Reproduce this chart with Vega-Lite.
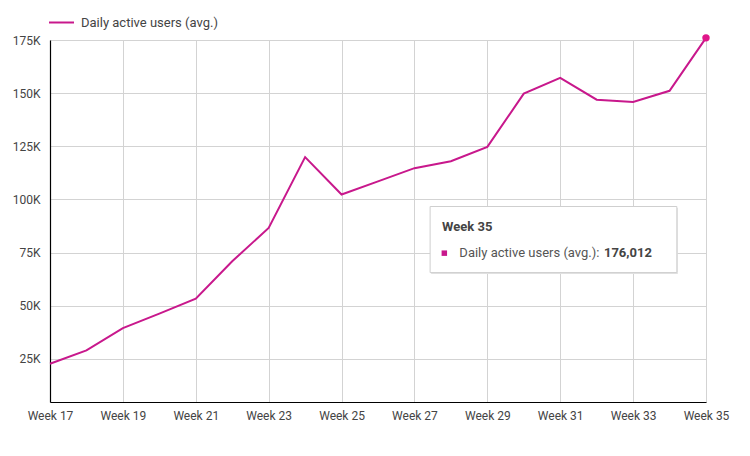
{
  "$schema": "https://vega.github.io/schema/vega-lite/v6.json",
  "width": 656,
  "height": 362,
  "autosize": "none",
  "padding": {"left": 50, "top": 40, "right": 44, "bottom": 54},
  "background": "white",
  "config": {
    "view": {"stroke": null},
    "font": "Roboto",
    "axis": {"labelFont": "Roboto", "labelFontSize": 12, "labelColor": "#444444", "gridColor": "#d3d3d3", "gridWidth": 1, "domainColor": "#000000", "domainWidth": 1.2, "ticks": false, "title": null, "labelFlush": false, "labelOverlap": false},
    "legend": {"labelFont": "Roboto", "labelFontSize": 13, "labelColor": "#444444"}
  },
  "data": {
    "values": [
      {"week": 17, "users": 22700},
      {"week": 18, "users": 29000},
      {"week": 19, "users": 39500},
      {"week": 20, "users": 46300},
      {"week": 21, "users": 53300},
      {"week": 22, "users": 70900},
      {"week": 23, "users": 86600},
      {"week": 24, "users": 119900},
      {"week": 25, "users": 102300},
      {"week": 26, "users": 108500},
      {"week": 27, "users": 114700},
      {"week": 28, "users": 118000},
      {"week": 29, "users": 124700},
      {"week": 30, "users": 149800},
      {"week": 31, "users": 157200},
      {"week": 32, "users": 146900},
      {"week": 33, "users": 145800},
      {"week": 34, "users": 151100},
      {"week": 35, "users": 176012}
    ]
  },
  "layer": [
    {
      "mark": {"type": "line", "strokeWidth": 2, "clip": false},
      "encoding": {
        "x": {"field": "week", "type": "quantitative", "scale": {"domain": [17, 35], "nice": false, "zero": false},
          "axis": {"values": [17, 19, 21, 23, 25, 27, 29, 31, 33, 35], "labelExpr": "'Week ' + datum.value", "labelPadding": 8, "grid": true}},
        "y": {"field": "users", "type": "quantitative", "scale": {"domain": [4700, 175000], "nice": false, "zero": false},
          "axis": {"values": [25000, 50000, 75000, 100000, 125000, 150000, 175000], "labelExpr": "(datum.value/1000) + 'K'", "labelPadding": 10, "grid": true}},
        "color": {"datum": "Daily active users (avg.)", "type": "nominal",
          "scale": {"range": ["#c8188c"]},
          "legend": {"title": null, "orient": "none", "legendX": -2, "legendY": -31, "symbolType": "stroke", "symbolSize": 625, "symbolStrokeWidth": 2, "labelOffset": 6}}
      }
    },
    {
      "transform": [{"filter": "datum.week == 35"}],
      "mark": {"type": "point", "filled": true, "size": 55, "color": "#e0168a", "opacity": 1, "clip": false},
      "encoding": {
        "x": {"field": "week", "type": "quantitative"},
        "y": {"field": "users", "type": "quantitative"}
      }
    },
    {
      "data": {"values": [{}]},
      "mark": {"type": "rect", "fill": "#e2e2e2", "xOffset": 1, "yOffset": 1.5, "x2Offset": 1, "y2Offset": 1.5},
      "encoding": {
        "x": {"datum": 27.43}, "x2": {"datum": 34.2},
        "y": {"datum": 96660}, "y2": {"datum": 65580}
      }
    },
    {
      "data": {"values": [{}]},
      "mark": {"type": "rect", "fill": "white", "stroke": "#cfcfcf", "strokeWidth": 1},
      "encoding": {
        "x": {"datum": 27.43}, "x2": {"datum": 34.2},
        "y": {"datum": 96660}, "y2": {"datum": 65580}
      }
    },
    {
      "data": {"values": [{}]},
      "mark": {"type": "text", "align": "left", "baseline": "middle", "font": "Roboto", "fontSize": 13, "fontWeight": "bold", "fill": "#444444"},
      "encoding": {
        "x": {"datum": 27.757}, "y": {"datum": 87240},
        "text": {"value": "Week 35"}
      }
    },
    {
      "data": {"values": [{}]},
      "mark": {"type": "point", "shape": "square", "filled": true, "size": 30, "color": "#c8188c", "opacity": 1},
      "encoding": {
        "x": {"datum": 27.82}, "y": {"datum": 74720}
      }
    },
    {
      "data": {"values": [{}]},
      "mark": {"type": "text", "align": "left", "baseline": "middle", "font": "Roboto", "fontSize": 13, "fill": "#555555"},
      "encoding": {
        "x": {"datum": 28.232}, "y": {"datum": 74720},
        "text": {"value": "Daily active users (avg.):"}
      }
    },
    {
      "data": {"values": [{}]},
      "mark": {"type": "text", "align": "left", "baseline": "middle", "font": "Roboto", "fontSize": 13, "fontWeight": "bold", "fill": "#444444"},
      "encoding": {
        "x": {"datum": 32.2}, "y": {"datum": 74720},
        "text": {"value": "176,012"}
      }
    }
  ]
}
